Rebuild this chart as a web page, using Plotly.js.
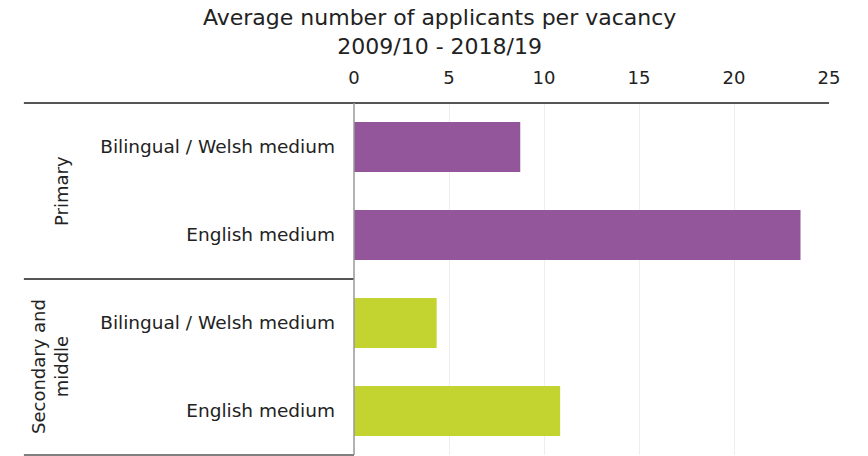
<!DOCTYPE html>
<html><head><meta charset="utf-8">
<script src="https://cdn.plot.ly/plotly-3.0.1.min.js"></script>
<style>html,body{margin:0;padding:0;background:#fff}#chart{width:868px;height:456px}</style>
</head><body><div id="chart"></div>
<script>
var categoryIds = ["primary_welsh", "primary_english", "secondary_welsh", "secondary_english"];
var categoryLabels = ["Bilingual / Welsh medium", "English medium", "Bilingual / Welsh medium", "English medium"];
var groups = ["Primary", "Secondary and<br>middle"];
var values = [8.75, 23.5, 4.35, 10.85];
var barColors = ["#93569a", "#93569a", "#c3d32f", "#c3d32f"];
var xTicks = [0, 5, 10, 15, 20, 25];
var titleText = "Average number of applicants per vacancy<br>2009/10 - 2018/19";

var font = "DejaVu Sans, sans-serif";
var trace = {
  type: "bar", orientation: "h",
  y: categoryIds, x: values,
  marker: {color: barColors, line: {width: 0}},
  width: 0.57, hoverinfo: "x"
};
var L = -0.695;
var layout = {
  width: 868, height: 456,
  margin: {l: 354, r: 39, t: 103, b: 1},
  paper_bgcolor: "#fff", plot_bgcolor: "#fff",
  font: {family: font, color: "#222"},
  showlegend: false,
  xaxis: {side: "top", range: [0, 25], tickvals: xTicks, ticktext: xTicks.map(String), showgrid: true, gridcolor: "#eeeeee", gridwidth: 1, zeroline: false, showline: false, ticks: "", tickfont: {size: 18, color: "#222"}, ticklabelstandoff: 14, fixedrange: true},
  yaxis: {type: "category", categoryorder: "array", categoryarray: categoryIds, tickvals: categoryIds, ticktext: categoryLabels, autorange: false, range: [3.5, -0.5], showgrid: false, zeroline: false, showline: false, ticks: "", tickfont: {size: 18.5, color: "#222"}, ticklabelstandoff: 18, fixedrange: true},
  shapes: [
    {type: "line", xref: "paper", yref: "paper", x0: L, x1: 1, y0: 1, y1: 1, line: {color: "#555", width: 2}},
    {type: "line", xref: "paper", yref: "y", x0: L, x1: 0, y0: 1.5, y1: 1.5, line: {color: "#555", width: 2}},
    {type: "line", xref: "paper", yref: "paper", x0: L, x1: 0, y0: 0, y1: 0, line: {color: "#555", width: 1.5}},
    {type: "line", xref: "paper", yref: "paper", x0: 0, x1: 0, y0: 0, y1: 1, line: {color: "#999", width: 1.5}}
  ],
  annotations: [
    {text: titleText, xref: "paper", yref: "paper", x: 0.181, y: 1.203, xanchor: "center", yanchor: "middle", showarrow: false, font: {size: 22, color: "#222", family: font}},
    {text: groups[0], xref: "paper", yref: "y", x: -0.617, y: 0.5, textangle: -90, showarrow: false, font: {size: 18, color: "#222", family: font}, xanchor: "center", yanchor: "middle"},
    {text: groups[1], xref: "paper", yref: "y", x: -0.64, y: 2.5, textangle: -90, showarrow: false, font: {size: 18, color: "#222", family: font}, xanchor: "center", yanchor: "middle"}
  ]
};
Plotly.newPlot("chart", [trace], layout, {displayModeBar: false, staticPlot: true});
</script></body></html>
